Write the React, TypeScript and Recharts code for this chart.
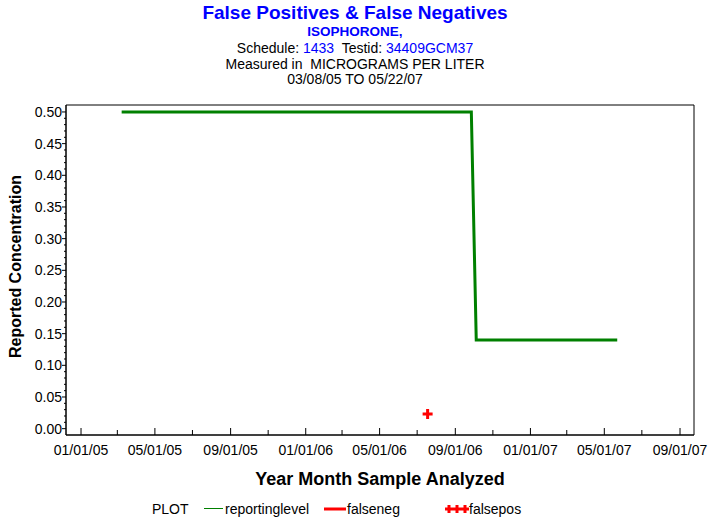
import {
  ComposedChart,
  Line,
  ReferenceArea,
  Scatter,
  XAxis,
  YAxis,
} from "recharts";

// dates are mm/dd/yy, plotted as days since 01/01/05
const REPORT_DATES = ["03/08/05", "09/27/06", "10/05/06", "05/22/07"];
const REPORT_LEVELS = [0.5, 0.5, 0.14, 0.14];
const FALSEPOS_DATES = ["07/18/06"];
const FALSEPOS_VALUES = [0.023];
const X_TICK_DATES = [
  "01/01/05", "03/01/05", "05/01/05", "07/01/05", "09/01/05", "11/01/05",
  "01/01/06", "03/01/06", "05/01/06", "07/01/06", "09/01/06", "11/01/06",
  "01/01/07", "03/01/07", "05/01/07", "07/01/07", "09/01/07",
];
const X_MAJOR = ["01/01/05", "05/01/05", "09/01/05", "01/01/06", "05/01/06", "09/01/06", "01/01/07", "05/01/07", "09/01/07"];
const Y_TICKS = [
  0, 0.01, 0.02, 0.03, 0.04, 0.05, 0.06, 0.07, 0.08, 0.09, 0.1, 0.11, 0.12, 0.13, 0.14, 0.15,
  0.16, 0.17, 0.18, 0.19, 0.2, 0.21, 0.22, 0.23, 0.24, 0.25, 0.26, 0.27, 0.28, 0.29, 0.3,
  0.31, 0.32, 0.33, 0.34, 0.35, 0.36, 0.37, 0.38, 0.39, 0.4, 0.41, 0.42, 0.43, 0.44, 0.45,
  0.46, 0.47, 0.48, 0.49, 0.5,
];
const Y_MAJOR = [0, 0.05, 0.1, 0.15, 0.2, 0.25, 0.3, 0.35, 0.4, 0.45, 0.5];

const X_DOMAIN = [-24.4, 995.7];
const Y_DOMAIN = [-0.01, 0.511];

const DAY0 = Date.UTC(2005, 0, 1);
const toDay = (s: string) => {
  const [m, d, y] = s.split("/").map(Number);
  return Math.round((Date.UTC(2000 + y, m - 1, d) - DAY0) / 86400000);
};
const dayLabel: Record<number, string> = {};
X_TICK_DATES.forEach((s) => (dayLabel[toDay(s)] = s));
const majorDays = new Set(X_MAJOR.map(toDay));

const reportData = REPORT_DATES.map((d, i) => ({ x: toDay(d), y: REPORT_LEVELS[i] }));
const falseposData = FALSEPOS_DATES.map((d, i) => ({ x: toDay(d), y: FALSEPOS_VALUES[i] }));

const FONT = "'Liberation Sans', Arial, sans-serif";

function XTick(props: any) {
  const { x, y, payload } = props;
  const major = majorDays.has(payload.value);
  return (
    <g>
      <line x1={x} y1={y} x2={x} y2={y - (major ? 7 : 5)} stroke="#000" />
      {major && (
        <text x={x} y={y + 20} textAnchor="middle" fontSize={14} fontFamily={FONT} fill="#000">
          {dayLabel[payload.value]}
        </text>
      )}
    </g>
  );
}

function YTick(props: any) {
  const { x, y, payload } = props;
  const major = Y_MAJOR.some((v) => Math.abs(v - payload.value) < 1e-6);
  return (
    <g>
      <line x1={x - (major ? 4 : 2)} y1={y} x2={x} y2={y} stroke="#000" />
      {major && (
        <text x={x - 4} y={y + 5} textAnchor="end" fontSize={14} fontFamily={FONT} fill="#000">
          {payload.value.toFixed(2)}
        </text>
      )}
    </g>
  );
}

function Plus(props: any) {
  const { cx, cy } = props;
  return (
    <path
      d={`M${cx - 5},${cy}H${cx + 5}M${cx},${cy - 5}V${cy + 5}`}
      stroke="#ff0000"
      strokeWidth={3}
    />
  );
}

export default function App() {
  return (
    <div style={{ position: "absolute", left: 0, top: 0, width: 713, height: 523, background: "#fff", fontFamily: FONT }}>
      <ComposedChart width={713} height={523} margin={{ top: 105, right: 19, left: 0, bottom: 58 }}>
        <XAxis
          dataKey="x"
          type="number"
          domain={X_DOMAIN}
          ticks={X_TICK_DATES.map(toDay)}
          interval={0}
          allowDataOverflow
          height={30}
          tickSize={0}
          tickMargin={0}
          tick={<XTick />}
          axisLine={{ stroke: "#000" }}
        />
        <YAxis
          type="number"
          domain={Y_DOMAIN}
          ticks={Y_TICKS}
          interval={0}
          allowDataOverflow
          width={66}
          tickSize={0}
          tickMargin={0}
          tick={<YTick />}
          axisLine={{ stroke: "#000" }}
        />
        <ReferenceArea
          x1={X_DOMAIN[0]}
          x2={X_DOMAIN[1]}
          y1={Y_DOMAIN[0]}
          y2={Y_DOMAIN[1]}
          fill="none"
          stroke="#000"
          fillOpacity={0}
        />
        <Line
          data={reportData}
          dataKey="y"
          type="linear"
          stroke="#008000"
          strokeWidth={3}
          dot={false}
          isAnimationActive={false}
        />
        <Scatter data={falseposData} dataKey="y" shape={<Plus />} isAnimationActive={false} />
      </ComposedChart>
      <svg width={713} height={523} style={{ position: "absolute", left: 0, top: 0, pointerEvents: "none" }}>
        <g fontFamily={FONT} textAnchor="middle" style={{ whiteSpace: "pre" }}>
          <text x={355} y={18.5} fontSize={19} fontWeight="bold" fill="#0000ff">
            False Positives &amp; False Negatives
          </text>
          <text x={355} y={36} fontSize={13.5} fontWeight="bold" fill="#0000ff">
            ISOPHORONE,
          </text>
          <text x={355} y={52.5} fontSize={14} fill="#000" xmlSpace="preserve">
            {"Schedule: "}
            <tspan fill="#0000ff">1433</tspan>
            {"  Testid: "}
            <tspan fill="#0000ff">34409GCM37</tspan>
          </text>
          <text x={355} y={68.5} fontSize={14} fill="#000" xmlSpace="preserve">
            {"Measured in  MICROGRAMS PER LITER"}
          </text>
          <text x={355} y={84} fontSize={14} fill="#000">
            03/08/05 TO 05/22/07
          </text>
          <text x={380} y={485} fontSize={18} fontWeight="bold" fill="#000">
            Year Month Sample Analyzed
          </text>
          <text
            x={21}
            y={266.5}
            fontSize={16}
            fontWeight="bold"
            fill="#000"
            transform="rotate(-90 21 266.5)"
          >
            Reported Concentration
          </text>
        </g>
        <g fontFamily={FONT} fontSize={14} fill="#000">
          <text x={152} y={514}>PLOT</text>
          <line x1={204} y1={508.5} x2={223} y2={508.5} stroke="#008000" strokeWidth={1} />
          <text x={225} y={514}>reportinglevel</text>
          <line x1={324} y1={509} x2={346} y2={509} stroke="#ff0000" strokeWidth={3} />
          <text x={347} y={514}>falseneg</text>
          {[449, 457, 465].map((cx) => (
            <path key={cx} d={`M${cx - 4},509H${cx + 4}M${cx},505V513`} stroke="#ff0000" strokeWidth={3} />
          ))}
          <text x={469} y={514}>falsepos</text>
        </g>
      </svg>
    </div>
  );
}
